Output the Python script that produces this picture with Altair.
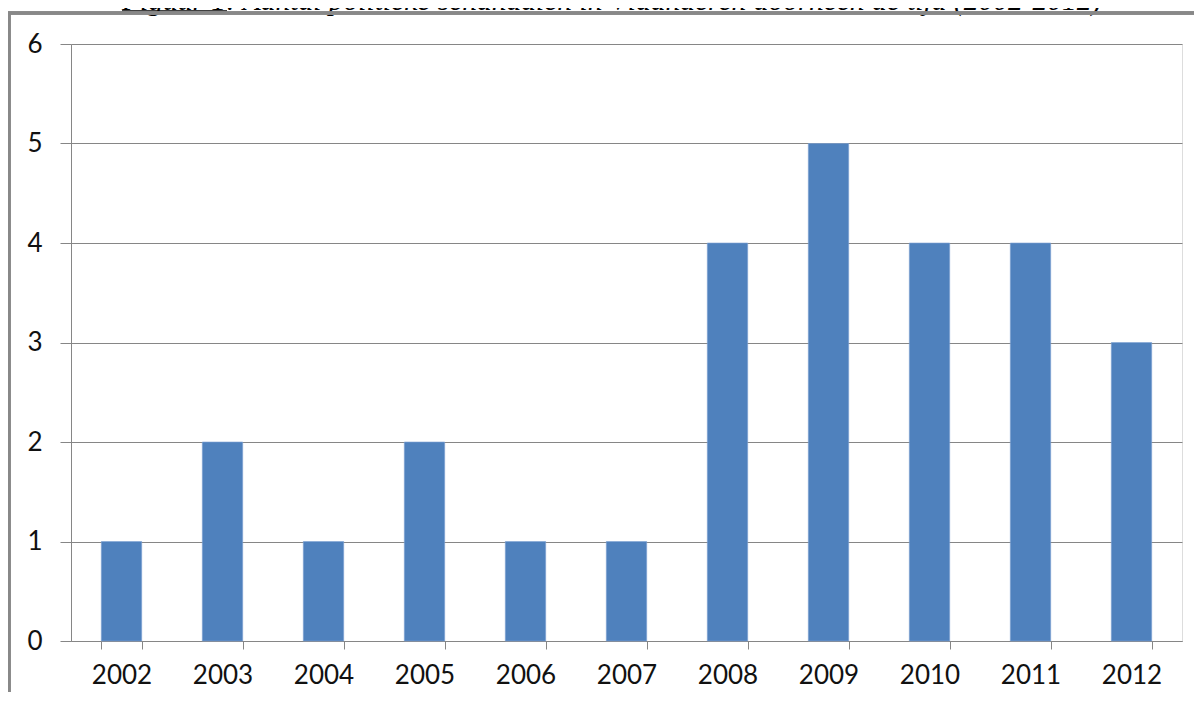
import altair as alt
import pandas as pd

years = ["2002", "2003", "2004", "2005", "2006", "2007", "2008", "2009", "2010", "2011", "2012"]
counts = [1, 2, 1, 2, 1, 1, 4, 5, 4, 4, 3]
y_ticks = [0, 1, 2, 3, 4, 5, 6]
title_head = "Figuur 1"
title_rest = ": Aantal politieke schandalen in Vlaanderen doorheen de tijd (2002-2012)"

df = pd.DataFrame({"jaar": years, "aantal": counts})

W, H = 1111, 597
PAD = {"left": 63, "top": 36, "right": 12, "bottom": 51}
GRAY = "#868686"
FONT = "Lato"

base = alt.Chart(df)

bars = base.mark_bar(color="#4F81BD", stroke="#7FA3D3", strokeWidth=0.6).encode(
    x=alt.X(
        "jaar:N",
        sort=years,
        title=None,
        scale=alt.Scale(paddingInner=0.6, paddingOuter=0.3),
        axis=alt.Axis(
            tickBand="extent",
            tickSize=8,
            tickColor=GRAY,
            domainColor=GRAY,
            labelFont=FONT,
            labelFontSize=26,
            labelColor="#111111",
            labelPadding=13,
            labelAngle=0,
            grid=False,
        ),
    ),
    y=alt.Y(
        "aantal:Q",
        title=None,
        scale=alt.Scale(domain=[0, 6], nice=False),
        axis=alt.Axis(
            values=y_ticks,
            tickSize=11,
            tickColor=GRAY,
            domainColor=GRAY,
            gridColor=GRAY,
            gridOpacity=1,
            labelFont=FONT,
            labelFontSize=26,
            labelColor="#111111",
            labelPadding=18,
            format="d",
        ),
    ),
)

frame_top = alt.Chart(df).mark_rule(color="#888888", strokeWidth=2.5).encode(
    x=alt.value(-63), x2=alt.value(1123), y=alt.value(-31)
)
frame_left = alt.Chart(df).mark_rule(color="#888888", strokeWidth=2.5).encode(
    x=alt.value(-62), y=alt.value(-31), y2=alt.value(650)
)

title_df = pd.DataFrame({"t": [title_head + title_rest]})
title_text = alt.Chart(title_df).mark_text(
    font="Liberation Serif", fontStyle="italic", fontSize=29.5, align="left",
    baseline="alphabetic", color="#000000"
).encode(text="t:N", x=alt.value(51), y=alt.value(-34))
underline = alt.Chart(title_df).mark_rule(color="#000000", strokeWidth=1.5).encode(
    x=alt.value(51), x2=alt.value(156), y=alt.value(-33)
)

chart = alt.layer(title_text, underline, frame_top, frame_left, bars).properties(
    width=W, height=H, padding=PAD, autosize=alt.AutoSizeParams(type="none")
).configure_view(stroke=None).configure(background="white")

chart.save("out.html", embed_options={"renderer": "svg", "actions": False})
